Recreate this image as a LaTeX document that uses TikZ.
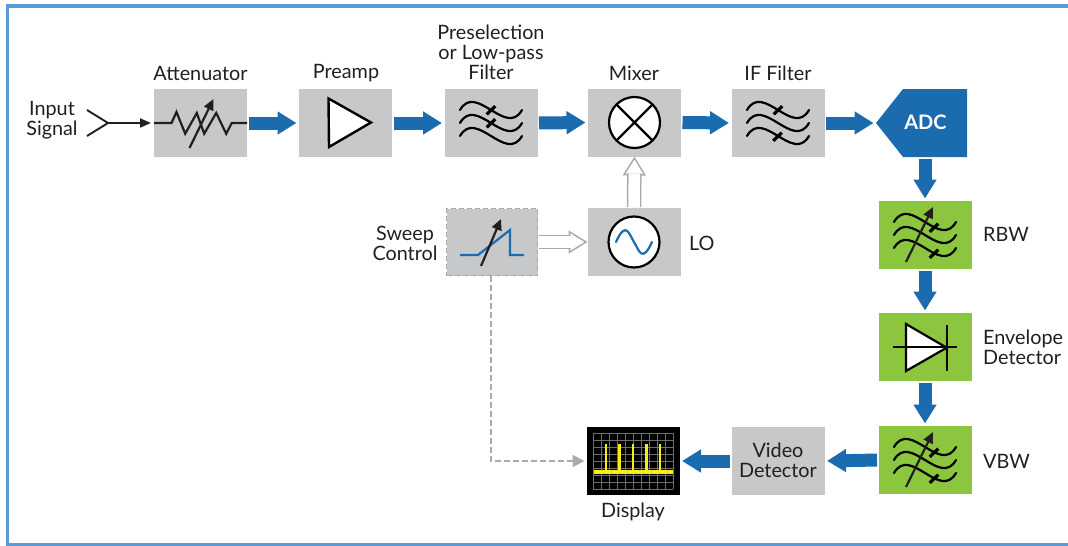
\documentclass[tikz,border=0pt]{standalone}
\usepackage{fontspec}
\setmainfont{Lato}
\usetikzlibrary{arrows.meta,calc}
\definecolor{framecol}{HTML}{5B9BD5}
\definecolor{boxgray}{HTML}{C7C8CA}
\definecolor{boxgreen}{HTML}{8CC63F}
\definecolor{flowblue}{HTML}{1A6CAE}
\definecolor{inkcol}{HTML}{231F20}
\definecolor{hollowcol}{HTML}{ABABAB}
\definecolor{gridcol}{HTML}{6E6E6E}
\definecolor{traceyellow}{HTML}{F7EC13}
\tikzset{
	lbl/.style={font=\fontsize{19.8}{20}\selectfont,text=inkcol,inner sep=0pt,align=center},
	lblleft/.style={lbl,align=left,anchor=west},
	grayblock/.style={fill=boxgray,minimum width=93pt,minimum height=68pt,inner sep=0pt,outer sep=0pt},
	greenblock/.style={grayblock,fill=boxgreen},
	flow/.style={draw=flowblue,line width=13pt,-{Triangle[length=19pt,width=22pt]},shorten <=1.5pt,shorten >=2.5pt},
	hollow/.style={draw=hollowcol,line width=1.5pt,-{Triangle[open,fill=white,length=19pt,width=23pt]},shorten <=1pt,
		postaction={draw=hollowcol,-,double=white,double distance=11.5pt,line width=1.5pt,shorten >=17pt,shorten <=1pt}},
	icon/.style={draw=black,line width=2.2pt},
	tune/.style={draw=inkcol,line width=2.2pt,-{Triangle[length=11pt,width=10pt]}},
	waves/.pic={
		\foreach \off in {-13,0,13}
			\draw[icon,line cap=round](-31,\off) .. controls (-15,\off-28) and (15,\off+28) .. (31,\off);
	},
	tick/.pic={\draw[black,line width=3.2pt](-4.3,4.3)--(4.3,-3.8);},
	lowpass/.pic={
		\pic at (0,0){waves};
		\pic at (0,-13){tick};
		\pic at (0,0){tick};
	},
	ifwaves/.pic={
		\pic at (0,0){waves};
		\pic at (0,-13){tick};
		\pic at (-.5,13.5){tick};
	},
	tunedwaves/.pic={
		\pic at (0,0){waves};
		\pic at (9,-7.5){tick};
		\pic at (9,18.5){tick};
		\draw[tune](-19,27)--(8,-28);
	},
	dial/.pic={\draw[icon,fill=white](0,0)circle(25.5);},
}
\begin{document}
\begin{tikzpicture}[x=1pt,y=-1pt]
	\useasboundingbox(0,0)rectangle(1068,546);
	\draw[framecol,line width=3.8pt](1068,5.8)--(7.5,5.8)--(7.5,544.5)--(1068,544.5);
	\node[grayblock](atten)at(200.5,123){};
	\node[grayblock](preamp)at(345.5,123){};
	\node[grayblock](presel)at(491,123){};
	\node[grayblock](mixer)at(634.5,122.5){};
	\node[grayblock](iffilter)at(778,123){};
	\node[grayblock,minimum width=91pt,fill=none](adc)at(921.5,123){};
	\fill[flowblue](adc.west)--([xshift=27pt]adc.north west)--(adc.north east)--(adc.south east)--([xshift=27pt]adc.south west)--cycle;
	\node[lbl,text=white,font=\fontsize{20}{20}\selectfont\bfseries](adctext)at(925.5,122){ADC};
	\node[greenblock](rbw)at(925,235){};
	\node[greenblock](envelope)at(925,347){};
	\node[greenblock](vbw)at(925,460){};
	\node[grayblock](video)at(778,461){};
	\node[grayblock,fill=black](display)at(633,461){};
	\node[grayblock,draw=hollowcol,dash pattern=on 5pt off 3pt,line width=1.5pt,minimum width=91pt,minimum height=67pt](sweep)at(492,242){};
	\node[grayblock](lo)at(634,242){};
	\node[lbl](inputlbl)at(52,120){Input\\Signal};
	\node[lbl](attenlbl)at(200.5,73){Attenuator};
	\node[lbl](preamplbl)at(346,73){Preamp};
	\node[lbl](presellbl)at(491,52.5){Preselection\\or Low-pass\\Filter};
	\node[lbl](mixerlbl)at(634,73){Mixer};
	\node[lbl](iflbl)at(778,73){IF Filter};
	\node[lbl](sweeplbl)at(405,243){Sweep\\Control};
	\node[lblleft](lolbl)at(689,243){LO};
	\node[lblleft](rbwlbl)at(983,234.5){RBW};
	\node[lblleft](envlbl)at(983,347){Envelope\\Detector};
	\node[lblleft](vbwlbl)at(983,461){VBW};
	\node[lbl](videolbl)at(778,460){Video\\Detector};
	\node[lbl](displaylbl)at(633,512){Display};
	\coordinate(jack)at(108,123);
	\draw[inkcol,line width=1.9pt](87,110)--(jack)--(87,136);
	\draw[inkcol,line width=1.9pt,-{Triangle[length=11pt,width=9pt]},shorten >=3pt](jack)--(atten.west);
	\draw[flow](atten.east)--(preamp.west);
	\draw[flow](preamp.east)--(presel.west);
	\draw[flow](presel.east)--(mixer.west);
	\draw[flow](mixer.east)--(iffilter.west);
	\draw[flow](iffilter.east)--(adc.west);
	\draw[flow](adc.south-|rbw.north)--(rbw.north);
	\draw[flow](rbw.south)--(envelope.north);
	\draw[flow](envelope.south)--(vbw.north);
	\draw[flow](vbw.west)--(video.east);
	\draw[flow](video.west)--(display.east);
	\draw[hollow](lo.north)--(mixer.south);
	\draw[hollow,shorten <=3pt](sweep.east)--(lo.west);
	\draw[hollowcol,line width=2pt,dash pattern=on 6pt off 3pt,-{Triangle[length=12pt,width=12pt]},shorten >=2pt]([xshift=-1pt]sweep.south)|-(display.west);
	\draw[inkcol,line width=2.2pt,shift={(atten.center)}](-46.5,0)--(-29,0)--(-24,-11)--(-15.3,10.7)--(-3.7,-10)--(3.7,10.7)--(15.7,-10)--(25.7,10.7)--(31.3,0)--(46.5,0);
	\draw[tune,shift={(atten.center)}](-11,25)--(13,-24);
	\draw[icon,fill=white,line width=2.4pt](328.5,98.5)--(371,122.5)--(329,147)--cycle;
	\pic at(presel.center){lowpass};
	\pic at(iffilter.center){ifwaves};
	\pic at(rbw.center){tunedwaves};
	\pic at(vbw.center){tunedwaves};
	\pic at(mixer.center){dial};
	\draw[icon]($(mixer.center)+(-18,-18)$)--($(mixer.center)+(18,18)$) ($(mixer.center)+(18,-18)$)--($(mixer.center)+(-18,18)$);
	\pic at(lo.center){dial};
	\draw[flowblue,line width=2.2pt,line cap=round,shift={(lo.center)}](-18,0) .. controls (-8,-22) and (-5,-8) .. (0,0) .. controls (5,8) and (8,22) .. (18,0);
	\draw[flowblue,line width=2.2pt,shift={(sweep.center)}](-32,13)--(-14,13)--(18,-12)--(18,13)--(32,13);
	\draw[tune,shift={(sweep.center)}](-11,24)--(9,-23);
	\draw[icon,fill=white,shift={(envelope.center)}](-19,-23)--(21.7,.7)--(-19,24)--cycle;
	\draw[icon,shift={(envelope.center)}](-32,0)--(32,0) (21.7,-22)--(21.7,24);
	\begin{scope}[shift={(display.center)}]
		\foreach \gx in {-40,-32,...,40}
			\draw[gridcol,line width=.8pt](\gx,-28)--(\gx,28);
		\foreach \gy in {-28,-21,...,28}
			\draw[gridcol,line width=.8pt](-40,\gy)--(40,\gy);
		\foreach \gx in {-27,-13.5,0,13.5,27}
			\draw[traceyellow,line width=2.2pt](\gx,11)--(\gx,-17);
		\draw[traceyellow,line width=4.4pt](-39.5,11)--(39.5,11);
	\end{scope}
\end{tikzpicture}
\end{document}
